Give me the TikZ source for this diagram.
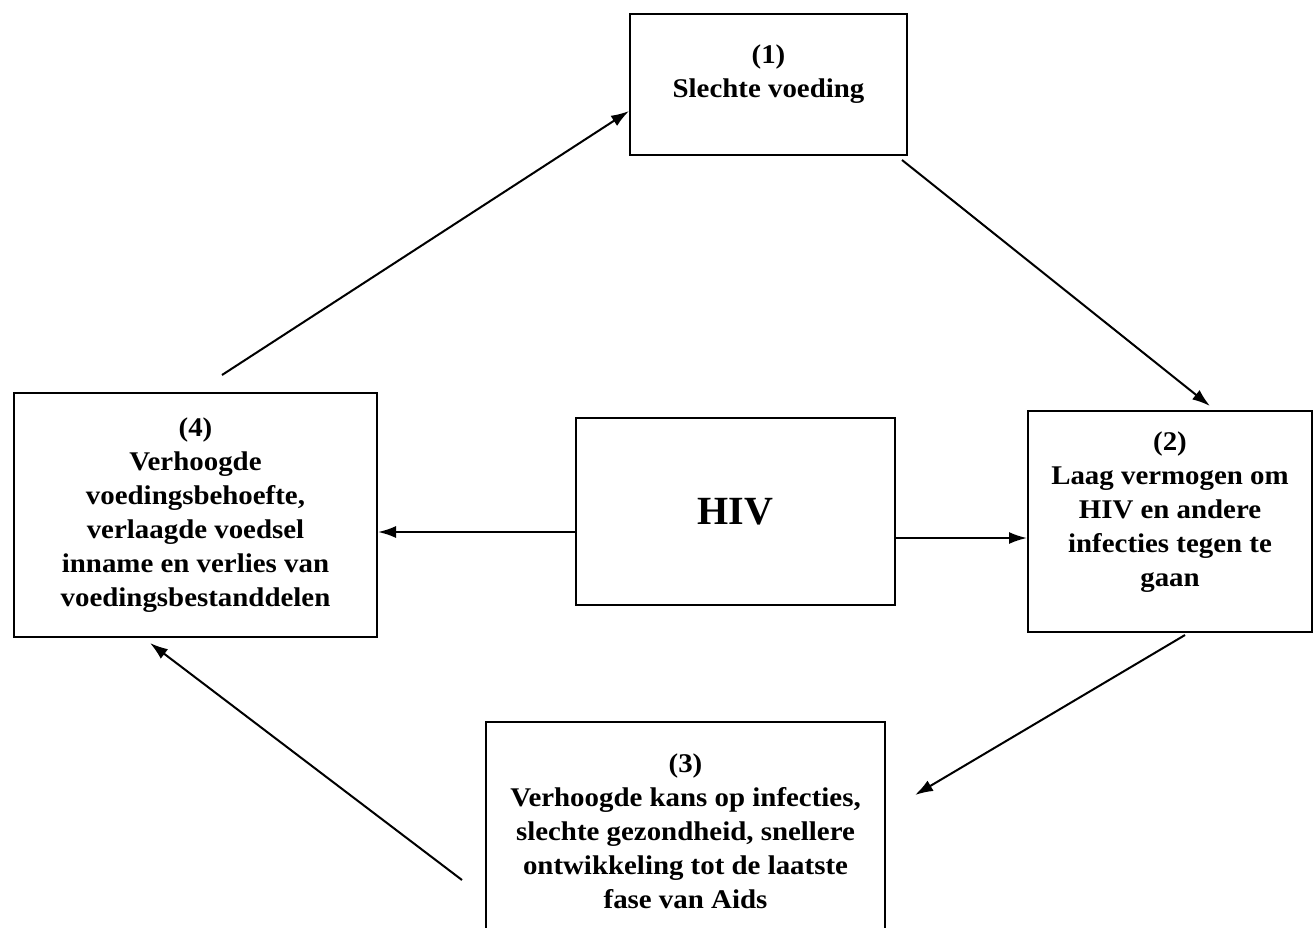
\documentclass[tikz,border=0pt]{standalone}
\usepackage{fontspec}
\setmainfont{Liberation Serif}
\newfontfamily\boxfont[FakeStretch=1.07]{Liberation Serif Bold}
\newfontfamily\hivfont{Liberation Serif Bold}
\usetikzlibrary{arrows.meta}
\begin{document}
\begin{tikzpicture}[x=1pt,y=-1pt,
  box/.style={draw, line width=2pt, align=center, inner sep=0pt,
    font=\boxfont\fontsize{27}{34}\selectfont},
  arr/.style={line width=2pt, -{Latex[length=18pt,width=12pt]}}]
\useasboundingbox (0,0) rectangle (1313,927);
\node[box, minimum width=277pt, minimum height=141pt] (b1) at (768.5,84.5) {(1)\\Slechte voeding\\[-17pt] \strut};
\node[box, minimum width=363pt, minimum height=244pt] (b4) at (195.5,515) {(4)\\Verhoogde\\voedingsbehoefte,\\verlaagde voedsel\\inname en verlies van\\voedingsbestanddelen};
\node[box, minimum width=284pt, minimum height=221pt] (b2) at (1170,521.5) {(2)\\Laag vermogen om\\HIV en andere\\infecties tegen te\\gaan\\[-20pt]\strut};
\node[box, minimum width=319pt, minimum height=187pt, font=\hivfont\fontsize{40}{48}\selectfont] (h) at (735.5,511.5) {HIV};
\node[box, minimum width=399pt, minimum height=218pt] (b3) at (685.5,831) {(3)\\Verhoogde kans op infecties,\\slechte gezondheid, snellere\\ontwikkeling tot de laatste\\fase van Aids};
\coordinate (s41) at (222,375);
\coordinate (s12) at (902,160);
\coordinate (s23) at (1185,635);
\coordinate (e23) at (915,795);
\coordinate (s34) at (462,880);
\draw[arr] (s41) -- ([yshift=-26.5pt]b1.west);
\draw[arr] (s12) -- ([xshift=40pt,yshift=4pt]b2.north);
\draw[arr] (s23) -- (e23);
\draw[arr] (s34) -- ([xshift=-45.5pt,yshift=-5pt]b4.south);
\draw[arr] ([yshift=-20.5pt]h.west) -- ([yshift=-20.5pt]h.west -| b4.east);
\draw[arr] ([yshift=-26.5pt]h.east) -- ([yshift=-26.5pt]h.east -| b2.west);
\end{tikzpicture}
\end{document}
